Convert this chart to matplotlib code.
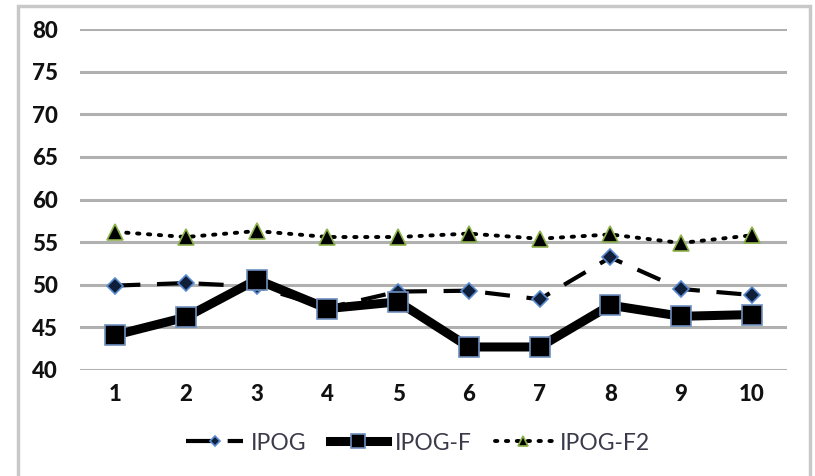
import matplotlib
matplotlib.use("Agg")
import matplotlib.pyplot as plt
from matplotlib.patches import Rectangle

# Test runs 1..10 and the three generator variants
runs = [1, 2, 3, 4, 5, 6, 7, 8, 9, 10]
ipog = [49.9, 50.2, 49.8, 47.3, 49.2, 49.3, 48.3, 53.2, 49.5, 48.8]
ipog_f = [44.1, 46.2, 50.6, 47.2, 48.0, 42.7, 42.7, 47.6, 46.3, 46.5]
ipog_f2 = [56.2, 55.6, 56.3, 55.6, 55.6, 56.0, 55.4, 55.9, 54.9, 55.8]
y_ticks = [40, 45, 50, 55, 60, 65, 70, 75, 80]

plt.rcParams['font.family'] = ['Lato', 'DejaVu Sans']

fig = plt.figure(figsize=(8.15, 4.76), dpi=100)
ax = fig.add_axes([80 / 815, 1 - 370 / 476, 707 / 815, 341 / 476])

# light frame around the whole chart
fig.patches.append(Rectangle((18 / 815, -0.05), (810 - 18) / 815, 1 - 6 / 476 + 0.05,
                             transform=fig.transFigure, fill=False,
                             edgecolor='#c8c8c8', linewidth=2.5))

for v in y_ticks:
    ax.axhline(v, color='#b0b0b0', linewidth=2.2, zorder=0)

ax.plot(runs, ipog_f2, linestyle=(0, (0.6, 2.2)), color='black', linewidth=2.8,
        dash_capstyle='round',
        marker='^', markersize=11, markerfacecolor='black',
        markeredgecolor='#8db24a', markeredgewidth=1.2, label='IPOG-F2', zorder=3)
ax.plot(runs, ipog, linestyle=(0, (6, 4)), color='black', linewidth=3,
        marker='D', markersize=8, markerfacecolor='#0f1f3a',
        markeredgecolor='#5a8ad0', markeredgewidth=1.2, label='IPOG', zorder=4)
ax.plot(runs, ipog_f, linestyle='-', color='black', linewidth=6.5,
        marker='s', markersize=15, markerfacecolor='black',
        markeredgecolor='#6f8fbf', markeredgewidth=1.2, label='IPOG-F', zorder=5)

ax.set_xlim(0.5, 10.5)
ax.set_ylim(40, 80)
ax.set_xticks(runs)
ax.set_yticks(y_ticks)
ax.set_xticklabels([str(r) for r in runs], fontsize=16, fontweight='black')
ax.set_yticklabels([str(v) for v in y_ticks], fontsize=16, fontweight='black')
ax.tick_params(axis='both', length=0, colors='#111111')
ax.tick_params(axis='x', pad=10)
ax.tick_params(axis='y', pad=16)
for s in ax.spines.values():
    s.set_visible(False)

handles, labels = ax.get_legend_handles_labels()
order = [1, 2, 0]
fig.legend([handles[i] for i in order], [labels[i] for i in order],
           loc='center', bbox_to_anchor=(0.513, 1 - 443 / 476), ncol=3,
           frameon=False, fontsize=16.5, handlelength=2.5, columnspacing=1.0,
           handletextpad=0.35, markerscale=0.7, labelcolor='#3a3a4a')

fig.savefig('out.png', dpi=100)
